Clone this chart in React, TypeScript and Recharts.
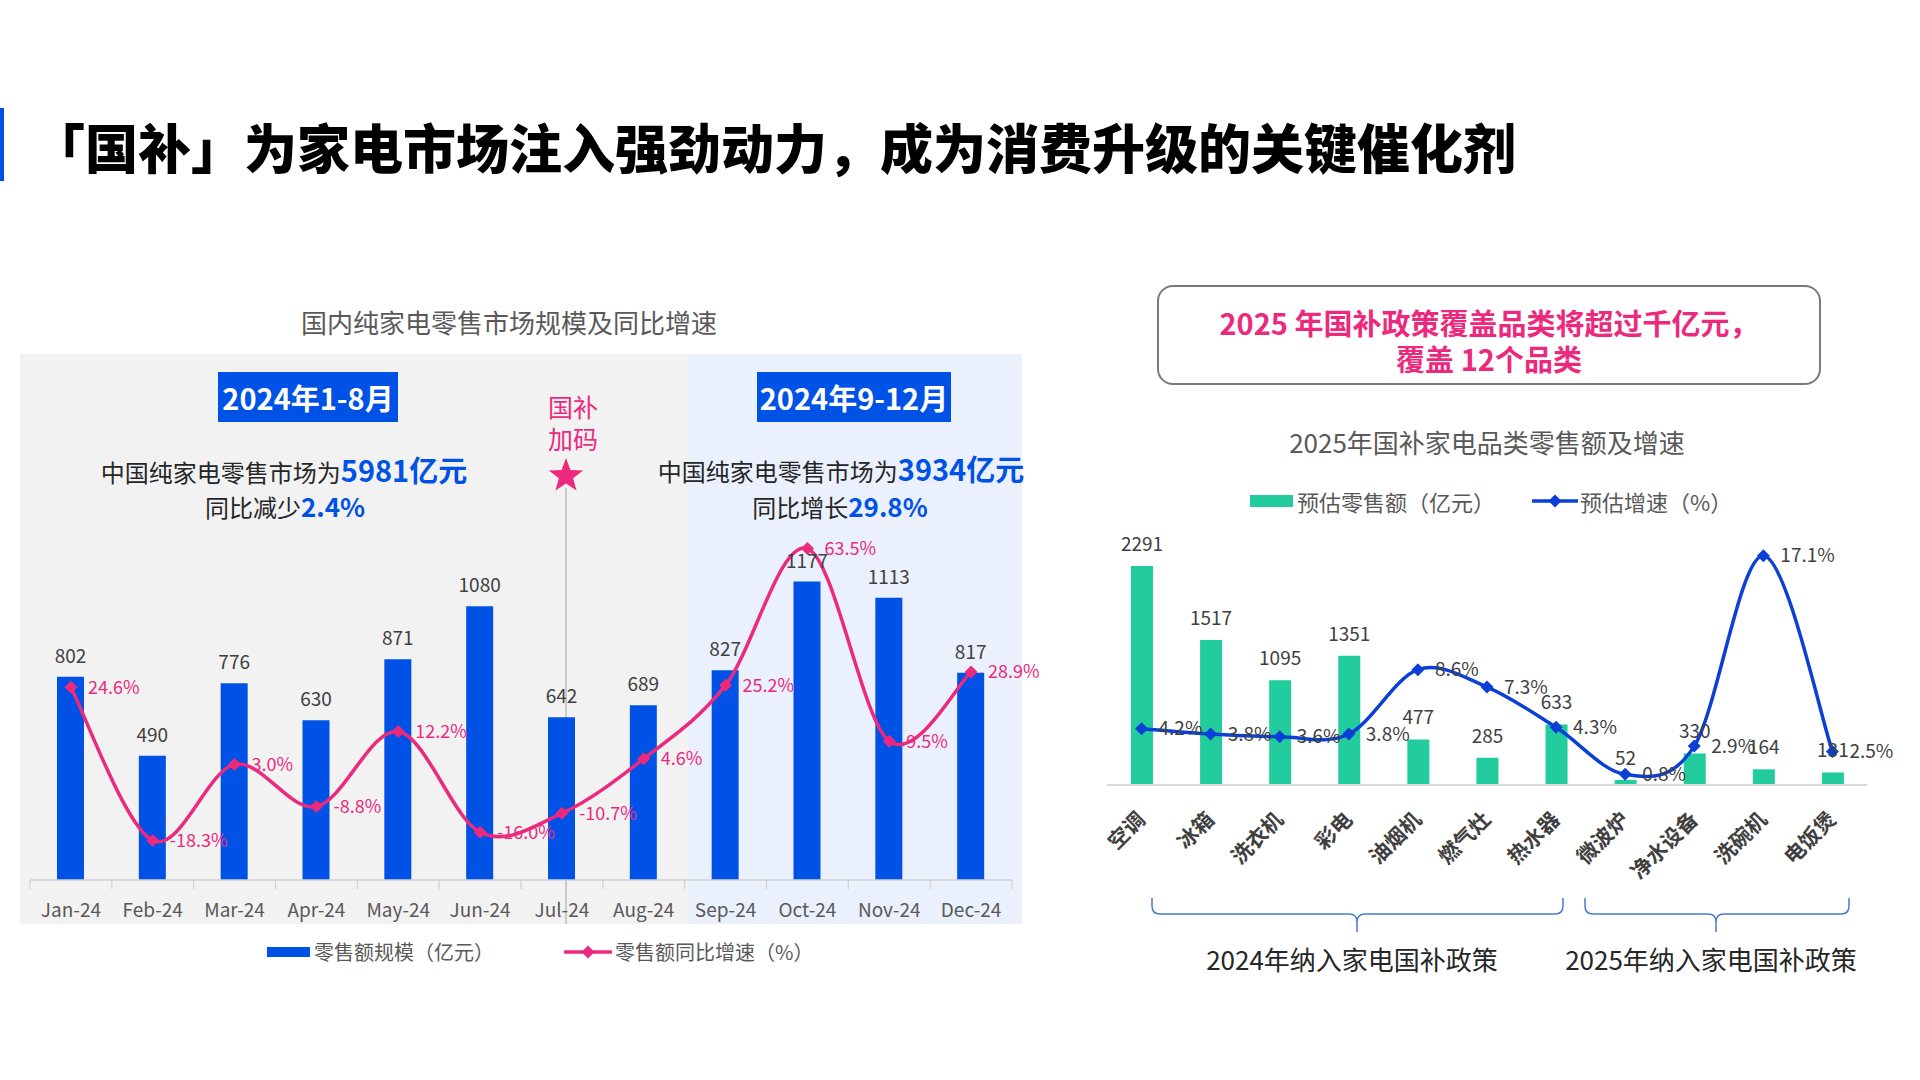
import React from 'react';
import { ComposedChart, Bar, Line, XAxis, YAxis, LabelList } from 'recharts';

// ---------- data ----------
const months = ['Jan-24', 'Feb-24', 'Mar-24', 'Apr-24', 'May-24', 'Jun-24', 'Jul-24', 'Aug-24', 'Sep-24', 'Oct-24', 'Nov-24', 'Dec-24'];
const retailSales = [802, 490, 776, 630, 871, 1080, 642, 689, 827, 1177, 1113, 817];
const yoyGrowth = [24.6, -18.3, 3.0, -8.8, 12.2, -16.0, -10.7, 4.6, 25.2, 63.5, 9.5, 28.9];

const categories = ['空调', '冰箱', '洗衣机', '彩电', '油烟机', '燃气灶', '热水器', '微波炉', '净水设备', '洗碗机', '电饭煲'];
const estSales = [2291, 1517, 1095, 1351, 477, 285, 633, 52, 330, 164, 131];
const estGrowth = [4.2, 3.8, 3.6, 3.8, 8.6, 7.3, 4.3, 0.8, 2.9, 17.1, 2.5];

const leftData = months.map((m, i) => ({ month: m, sales: retailSales[i], growth: yoyGrowth[i] }));
const rightData = categories.map((c, i) => ({ cat: c, sales: estSales[i], growth: estGrowth[i] }));

// ---------- style ----------
const FONT = '"Noto Sans CJK SC", "Noto Sans", sans-serif';
const BLUE = '#0052e6';
const PINK = '#ec2a7d';
const GREEN = '#22cc9c';
const LBLUE = '#0b3fd6';
const GRAY_TXT = '#595959';
const DARK_TXT = '#404040';

// Excel-like smooth curve (Catmull-Rom style bezier)
const excelSmooth: any = (context: any) => {
  let pts: number[][] = [];
  return {
    areaStart() {},
    areaEnd() {},
    lineStart() {
      pts = [];
    },
    point(x: number, y: number) {
      pts.push([+x, +y]);
    },
    lineEnd() {
      const n = pts.length;
      if (!n) return;
      context.moveTo(pts[0][0], pts[0][1]);
      for (let i = 0; i < n - 1; i++) {
        const p0 = pts[i > 0 ? i - 1 : 0];
        const p1 = pts[i];
        const p2 = pts[i + 1];
        const p3 = pts[i + 2 < n ? i + 2 : n - 1];
        context.bezierCurveTo(
          p1[0] + (p2[0] - p0[0]) / 6,
          p1[1] + (p2[1] - p0[1]) / 6,
          p2[0] - (p3[0] - p1[0]) / 6,
          p2[1] - (p3[1] - p1[1]) / 6,
          p2[0],
          p2[1]
        );
      }
    },
  };
};

const diamondDot = (color: string, r: number) => (props: any) => {
  const { cx, cy, index } = props;
  if (cx == null || cy == null) return <g key={index} />;
  return <path key={index} d={`M${cx},${cy - r}L${cx + r},${cy}L${cx},${cy + r}L${cx - r},${cy}Z`} fill={color} />;
};

const pct = (v: any) => `${Number(v).toFixed(1)}%`;

// ---------- layout constants for charts ----------
const L_LEFT = 20, L_TOP = 354, L_W = 1030, L_H = 570;
const L_MARGIN = { top: 166, right: 38, bottom: 0, left: 10 };
const L_PLOT_W = L_W - L_MARGIN.left - L_MARGIN.right;

const R_LEFT = 1097, R_TOP = 500, R_W = 800, R_H = 400;
const R_MARGIN = { top: 40, right: 30, bottom: 0, left: 10 };
const R_XH = R_H - 40 - 245;

const MonthTick = (props: any) => {
  const { x, y, payload, index } = props;
  const band = L_PLOT_W / months.length;
  return (
    <g>
      <line x1={x - band / 2} y1={y} x2={x - band / 2} y2={y + 9} stroke="#d0d0d0" strokeWidth={1.2} />
      {index === months.length - 1 && (
        <line x1={x + band / 2} y1={y} x2={x + band / 2} y2={y + 9} stroke="#d0d0d0" strokeWidth={1.2} />
      )}
      <text x={x} y={y + 37} textAnchor="middle" fontSize={19} fill={GRAY_TXT}>
        {payload.value}
      </text>
    </g>
  );
};

const CatTick = (props: any) => {
  const { x, y, payload } = props;
  const ax = x + 5;
  const ay = y + 36;
  return (
    <text x={ax} y={ay} textAnchor="end" fontSize={21} fontWeight={700} fill={DARK_TXT} transform={`rotate(-45 ${ax} ${ay})`}>
      {payload.value}
    </text>
  );
};

const abs = (style: React.CSSProperties): React.CSSProperties => ({ position: 'absolute', ...style });

const CText = ({ cx, cy, size, color, weight, children, lh }: any) => (
  <div
    style={abs({
      left: cx - 600,
      width: 1200,
      top: cy - (lh || size * 1.4) / 2,
      lineHeight: `${lh || size * 1.4}px`,
      fontSize: size,
      color,
      fontWeight: weight || 400,
      textAlign: 'center',
      whiteSpace: 'nowrap',
    })}
  >
    {children}
  </div>
);

const brace = (x0: number, x1: number, xc: number, y0: number, y1: number, y2: number) => {
  const r = 8;
  return `M${x0},${y0} L${x0},${y1 - r} Q${x0},${y1} ${x0 + r},${y1} L${xc - r},${y1} Q${xc},${y1} ${xc},${y1 + r} L${xc},${y2} M${xc},${y1 + r} Q${xc},${y1} ${xc + r},${y1} L${x1 - r},${y1} Q${x1},${y1} ${x1},${y1 - r} L${x1},${y0}`;
};

export default function App() {
  return (
    <div
      style={abs({
        left: 0,
        top: 0,
        width: 1920,
        height: 1080,
        background: '#ffffff',
        overflow: 'hidden',
        fontFamily: FONT,
      })}
    >
      {/* header */}
      <div style={abs({ left: 0, top: 108, width: 4, height: 73, background: BLUE })} />
      <div
        style={abs({
          left: 32,
          top: 116,
          lineHeight: '60px',
          fontSize: 53,
          fontWeight: 900,
          color: '#000',
          whiteSpace: 'nowrap',
        })}
      >
        「国补」为家电市场注入强劲动力，成为消费升级的关键催化剂
      </div>

      {/* ---------- left panel ---------- */}
      <CText cx={509} cy={322} size={26} color={GRAY_TXT}>
        国内纯家电零售市场规模及同比增速
      </CText>
      <div style={abs({ left: 20, top: 354, width: 668, height: 570, background: '#f2f2f2' })} />
      <div style={abs({ left: 688, top: 354, width: 334, height: 570, background: '#eaf0fc' })} />

      <div
        style={abs({
          left: 218,
          top: 372,
          width: 180,
          height: 50,
          background: BLUE,
          color: '#fff',
          fontSize: 29,
          fontWeight: 700,
          lineHeight: '50px',
          textAlign: 'center',
        })}
      >
        2024年1-8月
      </div>
      <div
        style={abs({
          left: 757,
          top: 372,
          width: 194,
          height: 50,
          background: BLUE,
          color: '#fff',
          fontSize: 29,
          fontWeight: 700,
          lineHeight: '50px',
          textAlign: 'center',
        })}
      >
        2024年9-12月
      </div>

      <CText cx={284} cy={469} size={24} color="#262626" lh={34}>
        中国纯家电零售市场为<span style={{ color: BLUE, fontWeight: 700, fontSize: 29 }}>5981亿元</span>
      </CText>
      <CText cx={285} cy={506} size={24} color="#262626" lh={34}>
        同比减少<span style={{ color: BLUE, fontWeight: 700, fontSize: 26 }}>2.4%</span>
      </CText>
      <CText cx={841} cy={468} size={24} color="#262626" lh={34}>
        中国纯家电零售市场为<span style={{ color: BLUE, fontWeight: 700, fontSize: 29 }}>3934亿元</span>
      </CText>
      <CText cx={840} cy={506} size={24} color="#262626" lh={34}>
        同比增长<span style={{ color: BLUE, fontWeight: 700, fontSize: 26 }}>29.8%</span>
      </CText>

      <CText cx={573} cy={406} size={25} color={PINK} lh={25}>
        国补
      </CText>
      <CText cx={573} cy={438} size={25} color={PINK} lh={25}>
        加码
      </CText>
      <svg style={abs({ left: 0, top: 0 })} width={1920} height={1080}>
        <line x1={566} y1={488} x2={566} y2={924} stroke="#a0a0a0" strokeWidth={1} />
        <polygon
          points={Array.from({ length: 10 })
            .map((_, i) => {
              const r = i % 2 === 0 ? 18 : 7.5;
              const a = -Math.PI / 2 + (i * Math.PI) / 5;
              return `${566 + r * Math.cos(a)},${476 + r * Math.sin(a)}`;
            })
            .join(' ')}
          fill={PINK}
        />
      </svg>

      <div style={abs({ left: L_LEFT, top: L_TOP })}>
        <ComposedChart width={L_W} height={L_H} data={leftData} margin={L_MARGIN}>
          <XAxis
            dataKey="month"
            height={44}
            tickSize={0}
            tickMargin={0}
            tickLine={false}
            axisLine={{ stroke: '#d0d0d0', strokeWidth: 1.5 }}
            tick={<MonthTick />}
            interval={0}
          />
          <YAxis yAxisId="l" hide domain={[0, 1420]} allowDataOverflow />
          <YAxis yAxisId="r" hide domain={[-29.4, 71.5]} allowDataOverflow />
          <Bar yAxisId="l" dataKey="sales" fill={BLUE} barSize={27} isAnimationActive={false}>
            <LabelList dataKey="sales" position="top" offset={14} fontSize={19} fill={DARK_TXT} />
          </Bar>
          <Line
            yAxisId="r"
            dataKey="growth"
            type={excelSmooth}
            stroke={PINK}
            strokeWidth={3.5}
            dot={diamondDot(PINK, 6.5)}
            activeDot={false}
            isAnimationActive={false}
          >
            <LabelList dataKey="growth" position="right" offset={17} fontSize={18} fill={PINK} formatter={pct} />
          </Line>
        </ComposedChart>
      </div>

      {/* left legend */}
      <div style={abs({ left: 267, top: 947, width: 43, height: 10, background: BLUE })} />
      <div style={abs({ left: 314, top: 937, lineHeight: '30px', fontSize: 20, color: GRAY_TXT, whiteSpace: 'nowrap' })}>
        零售额规模（亿元）
      </div>
      <svg style={abs({ left: 560, top: 940 })} width={56} height={24}>
        <line x1={4} y1={12} x2={52} y2={12} stroke={PINK} strokeWidth={3.5} />
        <path d="M28,5.5L34.5,12L28,18.5L21.5,12Z" fill={PINK} />
      </svg>
      <div style={abs({ left: 615, top: 937, lineHeight: '30px', fontSize: 20, color: GRAY_TXT, whiteSpace: 'nowrap' })}>
        零售额同比增速（%）
      </div>

      {/* ---------- right panel ---------- */}
      <div
        style={abs({
          left: 1157,
          top: 285,
          width: 660,
          height: 96,
          border: '2.5px solid #7a7a7a',
          borderRadius: 16,
        })}
      />
      <CText cx={1489} cy={322} size={29} color={PINK} weight={700} lh={30}>
        2025 年国补政策覆盖品类将超过千亿元，
      </CText>
      <CText cx={1489} cy={358} size={29} color={PINK} weight={700} lh={30}>
        覆盖 12个品类
      </CText>
      <CText cx={1487} cy={442} size={26} color={GRAY_TXT}>
        2025年国补家电品类零售额及增速
      </CText>

      <div style={abs({ left: 1250, top: 495, width: 43, height: 12, background: GREEN })} />
      <div style={abs({ left: 1297, top: 485, lineHeight: '32px', fontSize: 22, color: GRAY_TXT, whiteSpace: 'nowrap' })}>
        预估零售额（亿元）
      </div>
      <svg style={abs({ left: 1528, top: 489 })} width={56} height={24}>
        <line x1={4} y1={12} x2={50} y2={12} stroke={LBLUE} strokeWidth={3.5} />
        <path d="M27,5.5L33.5,12L27,18.5L20.5,12Z" fill={LBLUE} />
      </svg>
      <div style={abs({ left: 1580, top: 485, lineHeight: '32px', fontSize: 22, color: GRAY_TXT, whiteSpace: 'nowrap' })}>
        预估增速（%）
      </div>

      <div style={abs({ left: R_LEFT, top: R_TOP })}>
        <ComposedChart width={R_W} height={R_H} data={rightData} margin={R_MARGIN}>
          <XAxis
            dataKey="cat"
            height={R_XH}
            tickSize={0}
            tickMargin={0}
            tickLine={false}
            axisLine={{ stroke: '#d9d9d9', strokeWidth: 2 }}
            tick={<CatTick />}
            interval={0}
          />
          <YAxis yAxisId="l" hide domain={[0, 2563]} allowDataOverflow />
          <YAxis yAxisId="r" hide domain={[0, 18.27]} allowDataOverflow />
          <Bar yAxisId="l" dataKey="sales" fill={GREEN} barSize={22} isAnimationActive={false}>
            <LabelList dataKey="sales" position="top" offset={15} fontSize={19} fill={DARK_TXT} />
          </Bar>
          <Line
            yAxisId="r"
            dataKey="growth"
            type={excelSmooth}
            stroke={LBLUE}
            strokeWidth={3.5}
            dot={diamondDot(LBLUE, 6.5)}
            activeDot={false}
            isAnimationActive={false}
          >
            <LabelList dataKey="growth" position="right" offset={17} fontSize={19} fill={DARK_TXT} formatter={pct} />
          </Line>
        </ComposedChart>
      </div>

      <svg style={abs({ left: 0, top: 0 })} width={1920} height={1080}>
        <path d={brace(1152, 1563, 1357, 898, 914, 932)} fill="none" stroke="#4a7bd0" strokeWidth={1.5} />
        <path d={brace(1585, 1849, 1716, 898, 914, 932)} fill="none" stroke="#4a7bd0" strokeWidth={1.5} />
      </svg>
      <CText cx={1352} cy={959} size={26} color="#262626">
        2024年纳入家电国补政策
      </CText>
      <CText cx={1711} cy={959} size={26} color="#262626">
        2025年纳入家电国补政策
      </CText>
    </div>
  );
}
